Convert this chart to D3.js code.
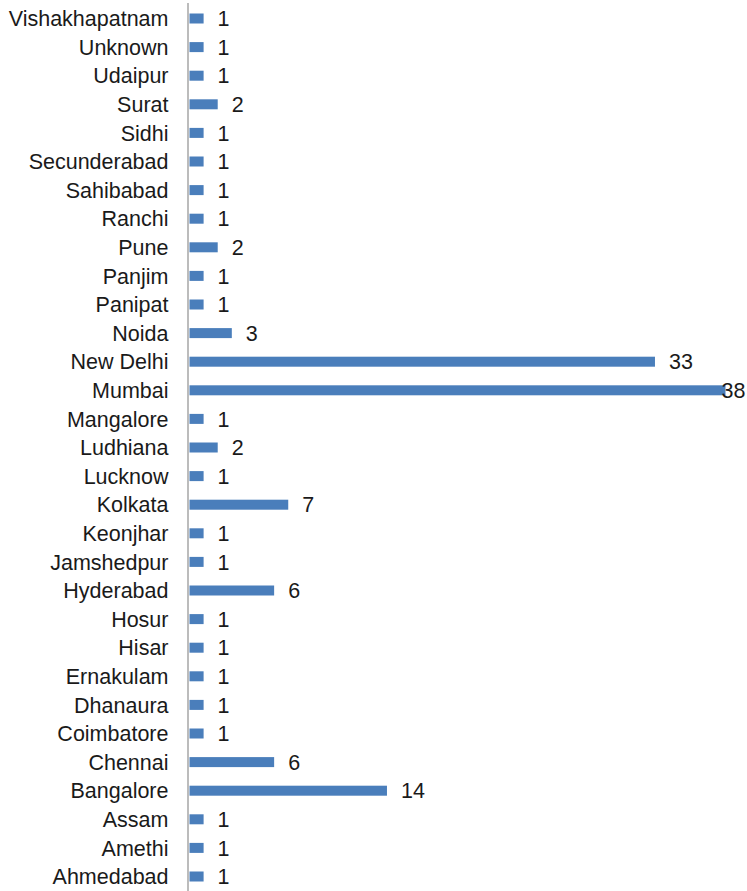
<!DOCTYPE html>
<html>
<head>
<meta charset="utf-8">
<script src="https://cdn.jsdelivr.net/npm/d3@7"></script>
<style>
  html, body { margin: 0; padding: 0; background: #fff; }
  svg { display: block; }
  text { font-family: "Liberation Sans", Arial, Helvetica, sans-serif; fill: #1a1a1a; }
</style>
</head>
<body>
<svg id="chart" width="747" height="891"></svg>
<script>
const categories = ["Vishakhapatnam","Unknown","Udaipur","Surat","Sidhi","Secunderabad","Sahibabad","Ranchi","Pune","Panjim","Panipat","Noida","New Delhi","Mumbai","Mangalore","Ludhiana","Lucknow","Kolkata","Keonjhar","Jamshedpur","Hyderabad","Hosur","Hisar","Ernakulam","Dhanaura","Coimbatore","Chennai","Bangalore","Assam","Amethi","Ahmedabad"];
const values = [1,1,1,2,1,1,1,1,2,1,1,3,33,38,1,2,1,7,1,1,6,1,1,1,1,1,6,14,1,1,1];

const W = 747, H = 891;
const FS = 21.5;
const OFF = 14;
const svg = d3.select("#chart");
const x0 = 189.5;
const x = d3.scaleLinear().domain([0, 38]).range([x0, x0 + 536]);
const y = d3.scalePoint().domain(categories).range([18.5, 876.5]);
const barH = 10;

// axis line
svg.append("line")
  .attr("x1", 188).attr("x2", 188)
  .attr("y1", 3).attr("y2", H)
  .attr("stroke", "#a6a6a6").attr("stroke-width", 1.5);

const data = categories.map((c, i) => ({c, v: values[i]}));

svg.selectAll("rect.bar").data(data).enter().append("rect")
  .attr("class", "bar")
  .attr("x", x(0))
  .attr("y", d => y(d.c) - barH / 2)
  .attr("width", d => x(d.v) - x(0))
  .attr("height", barH)
  .attr("fill", "#4a7ebb");

svg.selectAll("text.cat").data(data).enter().append("text")
  .attr("class", "cat")
  .attr("x", 168.5)
  .attr("y", d => y(d.c))
  .attr("dy", "0.36em")
  .attr("text-anchor", "end")
  .attr("font-size", FS)
  .text(d => d.c);

svg.selectAll("text.val").data(data).enter().append("text")
  .attr("class", "val")
  .attr("x", d => (x(d.v) + OFF + 25 > W) ? W - 1.5 : x(d.v) + OFF)
  .attr("y", d => y(d.c))
  .attr("dy", "0.36em")
  .attr("text-anchor", d => (x(d.v) + OFF + 25 > W) ? "end" : "start")
  .attr("font-size", FS)
  .text(d => d.v);
</script>
</body>
</html>
